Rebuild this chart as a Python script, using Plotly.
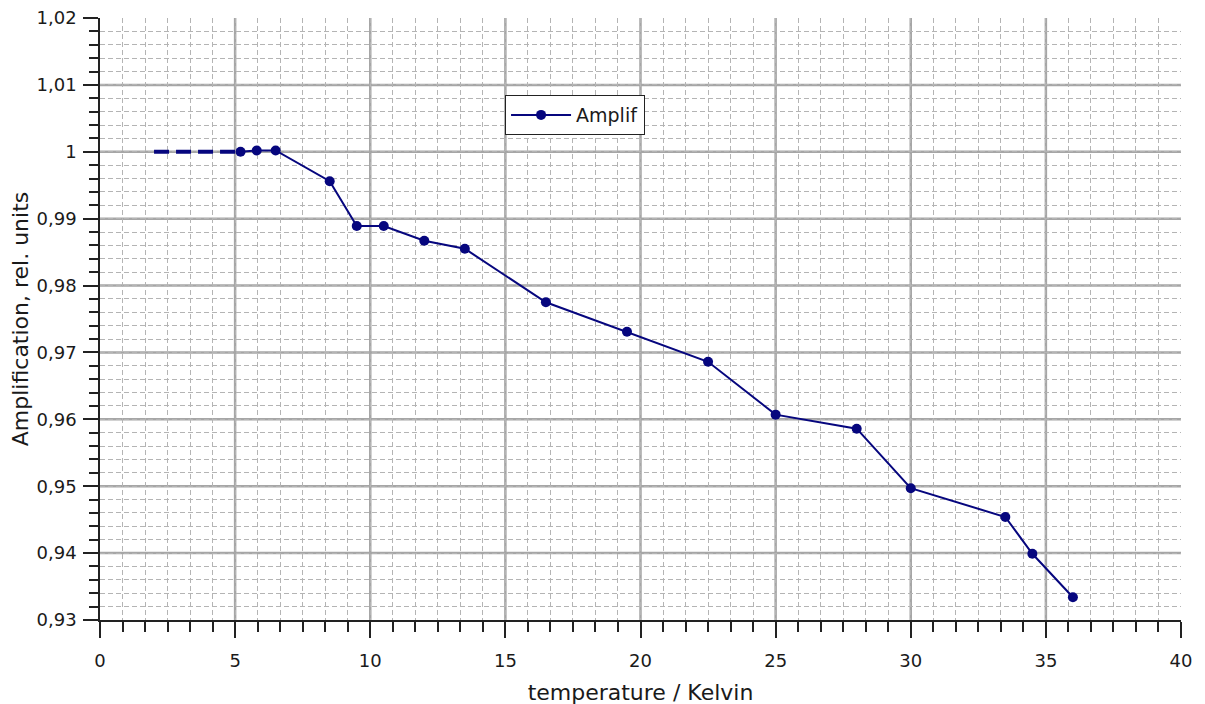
import plotly.graph_objects as go

# Data
temperature = [5.2, 5.8, 6.5, 8.5, 9.5, 10.5, 12, 13.5, 16.5, 19.5, 22.5, 25, 28, 30, 33.5, 34.5, 36]
amplif = [1.0000, 1.0002, 1.0002, 0.9956, 0.9889, 0.9889, 0.9867, 0.9855, 0.9775, 0.9731,
          0.9686, 0.9607, 0.9586, 0.9497, 0.9454, 0.9399, 0.9334]
extrap_x = [2, 5.2]
extrap_y = [1.0, 1.0]

x_ticks = [0, 5, 10, 15, 20, 25, 30, 35, 40]
y_ticks = [0.93, 0.94, 0.95, 0.96, 0.97, 0.98, 0.99, 1.0, 1.01, 1.02]

navy = "#06067e"
font = "DejaVu Sans"
grid_major = "#a6a6a6"
grid_minor = "#b4b4b4"

fig = go.Figure()
fig.add_trace(go.Scatter(x=extrap_x, y=extrap_y, mode="lines",
                         line=dict(color=navy, width=4, dash="15px,7px"),
                         showlegend=False, hoverinfo="skip"))
fig.add_trace(go.Scatter(x=temperature, y=amplif, mode="lines+markers", name="Amplif",
                         line=dict(color=navy, width=2),
                         marker=dict(color=navy, size=10)))

# major grid lines (interior only, as in the reference)
shapes = []
for xv in x_ticks[1:-1]:
    shapes.append(dict(type="line", xref="x", yref="paper", x0=xv, x1=xv, y0=0, y1=1,
                       line=dict(color=grid_major, width=2.5), layer="below"))
for yv in y_ticks[1:-1]:
    shapes.append(dict(type="line", xref="paper", yref="y", x0=0, x1=1, y0=yv, y1=yv,
                       line=dict(color=grid_major, width=2.5), layer="below"))

fig.update_layout(
    width=1205, height=704,
    margin=dict(l=92, r=32, t=10, b=92),
    paper_bgcolor="white", plot_bgcolor="white",
    separators=",.",
    shapes=shapes,
    font=dict(family=font, size=18, color="#1a1a1a"),
    legend=dict(x=0.3747, y=0.872, xanchor="left", yanchor="top",
                bgcolor="white", bordercolor="#222", borderwidth=1, itemwidth=60,
                font=dict(family=font, size=19, color="#1a1a1a")),
    xaxis=dict(range=[0, 40], tickvals=x_ticks, ticks="outside", ticklen=16, tickwidth=1.5,
               tickcolor="#222", showline=True, linecolor="#222", linewidth=1.5,
               showgrid=False, zeroline=False, automargin=False,
               ticklabelstandoff=8, ticklabeloverflow="allow",
               tickfont=dict(family=font, size=18),
               title=dict(text="temperature / Kelvin", font=dict(family=font, size=22), standoff=14),
               minor=dict(dtick=5/6, tick0=0, ticks="outside", ticklen=10, tickcolor="#222",
                          showgrid=True, gridcolor=grid_minor, griddash="5px,3px", gridwidth=1)),
    yaxis=dict(range=[0.93, 1.02], tickvals=y_ticks, tickformat=".2~f", ticks="outside",
               ticklen=15, tickwidth=1.5, tickcolor="#222", showline=True, linecolor="#222",
               linewidth=1.5, showgrid=False, zeroline=False, automargin=False,
               ticklabelstandoff=3, ticklabeloverflow="allow",
               tickfont=dict(family=font, size=18),
               title=dict(text="Amplification, rel. units", font=dict(family=font, size=22), standoff=6),
               minor=dict(dtick=0.002, tick0=0.93, ticks="outside", ticklen=9, tickcolor="#222",
                          showgrid=True, gridcolor=grid_minor, griddash="5px,3px", gridwidth=1)),
)

fig.write_html("out.html")
